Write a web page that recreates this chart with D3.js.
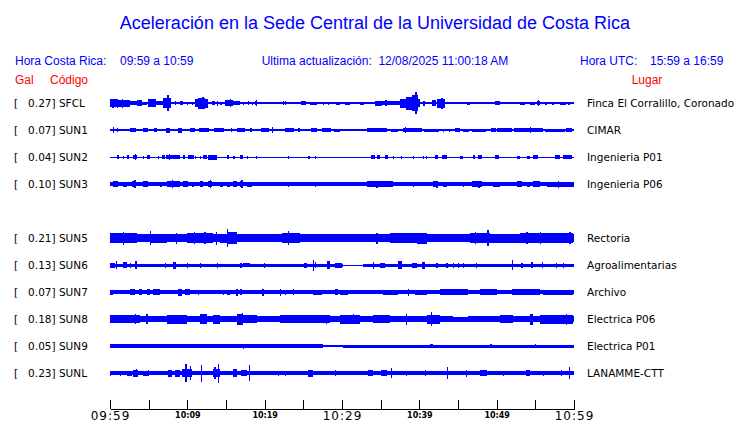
<!DOCTYPE html>
<html><head><meta charset="utf-8">
<script src="https://cdn.jsdelivr.net/npm/d3@7"></script>
<style>
html,body{margin:0;padding:0;background:#fff;}
svg{display:block;}
text{white-space:pre;}
</style></head>
<body>
<svg id="chart" width="740" height="423"></svg>
<script>
// ---------------- DATA ----------------
const titleText = "Aceleración en la Sede Central de la Universidad de Costa Rica";
const headerLeft = ["Hora Costa Rica:", "09:59 a 10:59"];
const headerMid = "Ultima actualización:  12/08/2025 11:00:18 AM";
const headerRight = ["Hora UTC:", "15:59 a 16:59"];
const colHeads = ["Gal", "Código", "Lugar"];

const slots = ["SFCL","SUN1","SUN2","SUN3","SUN4","SUN5","SUN6","SUN7","SUN8","SUN9","SUNL"];
const codes = ["SFCL","SUN1","SUN2","SUN3","SUN5","SUN6","SUN7","SUN8","SUN9","SUNL"];
const peakGal = [0.27,0.07,0.04,0.10,0.21,0.13,0.07,0.18,0.05,0.23];
const places = ["Finca El Corralillo, Coronado","CIMAR","Ingenieria P01","Ingenieria P06","Rectoria","Agroalimentarias","Archivo","Electrica P06","Electrica P01","LANAMME-CTT"];

// time window: minutes after 09:59
const windowStart = [9, 59];
const windowMinutes = 60;
const majorLabels = ["09:59","10:09","10:19","10:29","10:39","10:49","10:59"];
const bigLabels = ["09:59","10:29","10:59"];

// background noise level per station: [fromMin, toMin, halfAmplitudeGal]
const noiseSFCL = [[0,60,0.012]];
const noiseSUN1 = [[0,60,0.02],[0,13.3,0.027]];
const noiseSUN2 = [[0,60,0.01]];
const noiseSUN3 = [[0,60,0.032],[19.0,33.2,0.04]];
const noiseSUN5 = [[0,60,0.08]];
const noiseSUN6 = [[0,30.13,0.03],[32.72,60,0.03]];
const noiseSUN7 = [[0,60,0.033]];
const noiseSUN8 = [[0,44.35,0.065],[44.35,46.3,0.05],[46.3,60,0.065]];
const noiseSUN9 = [[0,27.5,0.038],[27.5,30.1,0.016],[30.1,60,0.03]];
const noiseSUNL = [[0,60,0.038]];

// bursts of shaking: [fromMin, toMin, halfAmplitudeGal]
const burstSFCL = [[0,1.0,0.08],[0.3,0.5,0.09],[0.85,1.0,0.09],[1.0,2.6,0.07],[1.5,1.7,0.09],[2.6,3.5,0.035],[3.5,4.1,0.06],[4.2,4.8,0.03],[4.9,5.9,0.08],[5.9,6.8,0.04],[6.85,7.9,0.1],[7.4,7.6,0.16],[8.35,8.5,0.04],[9.05,9.4,0.04],[10.0,10.1,0.03],[10.55,10.65,0.03],[11.0,11.4,0.08],[11.4,12.3,0.11],[11.9,12.1,0.12],[12.3,12.7,0.09],[13.2,13.6,0.04],[13.8,14.0,0.05],[14.2,14.5,0.03],[14.9,15.9,0.06],[15.5,15.7,0.085],[15.9,16.8,0.04],[17.2,17.3,0.03],[17.8,17.9,0.04],[18.3,18.4,0.03],[18.75,19.0,0.04],[18.85,18.95,0.06],[20.5,20.6,0.025],[21.2,21.3,0.025],[22.35,22.45,0.04],[22.6,22.7,0.04],[24.7,25.3,0.04],[25.9,26.8,0.03],[27.5,27.6,0.03],[28.2,28.3,0.03],[29.2,29.7,0.03],[30.4,31.0,0.03],[32.3,32.9,0.03],[34.3,35.2,0.05],[35.2,36.2,0.04],[35.6,35.8,0.06],[36.2,37.5,0.045],[37.5,38.3,0.09],[38.3,39.0,0.13],[39.0,39.8,0.16],[39.5,39.65,0.22],[39.8,40.1,0.08],[40.5,40.7,0.05],[41.6,42.1,0.06],[42.3,43.3,0.09],[42.85,43.0,0.11],[46.2,46.55,0.03],[47.8,47.9,0.02],[49.8,50.4,0.04],[53.0,53.7,0.03],[54.3,54.9,0.03],[55.2,55.6,0.04],[55.3,55.4,0.06],[56.3,56.5,0.03],[57.2,57.4,0.03],[58.2,59.0,0.03],[59.2,59.5,0.03]];
const burstSUN1 = [[0.35,0.5,0.06],[0.9,1.0,0.04],[2.6,3.3,0.04],[4.3,4.9,0.04],[5.7,6.1,0.04],[7.3,7.8,0.05],[8.8,9.3,0.05],[10.3,11.0,0.04],[11.5,12.8,0.04],[13.5,14.8,0.04],[15.6,15.8,0.04],[16.4,17.5,0.04],[18.1,18.3,0.04],[19.5,20.6,0.04],[20.9,21.1,0.06],[22.6,23.8,0.04],[24.3,24.6,0.04],[26.0,26.8,0.04],[27.4,28.6,0.04],[29.0,29.8,0.03],[33.2,35.8,0.04],[36.3,37.3,0.03],[37.9,40.4,0.045],[38.1,38.25,0.06],[40.6,42.5,0.03],[43.1,43.2,0.03],[43.9,44.0,0.03],[44.6,45.2,0.04],[45.6,46.4,0.03],[46.8,48.6,0.03],[49.3,49.9,0.04],[50.1,52.0,0.04],[52.3,56.0,0.04],[54.3,54.5,0.06],[56.2,58.8,0.03],[59.0,59.8,0.04]];
const burstSUN2 = [[0.85,1.1,0.04],[1.65,1.8,0.03],[2.15,2.4,0.04],[3.0,3.45,0.04],[3.2,3.3,0.06],[4.25,4.4,0.03],[4.75,5.15,0.035],[6.2,6.3,0.03],[6.7,7.1,0.04],[7.3,9.05,0.04],[7.6,7.75,0.06],[9.45,9.7,0.04],[10.1,10.8,0.035],[10.95,11.05,0.03],[11.6,11.7,0.03],[12.05,12.5,0.04],[12.7,13.8,0.05],[15.1,15.45,0.04],[15.95,16.2,0.03],[16.8,17.25,0.04],[17.7,17.9,0.03],[18.9,19.05,0.03],[23.0,23.1,0.03],[25.6,25.85,0.03],[26.5,26.7,0.03],[33.8,34.3,0.04],[34.5,34.9,0.035],[35.55,36.0,0.04],[36.55,36.7,0.03],[37.65,37.8,0.03],[39.15,39.3,0.03],[40.45,40.6,0.03],[40.9,41.05,0.03],[42.0,42.45,0.04],[42.9,43.55,0.04],[45.25,45.7,0.03],[46.95,47.2,0.04],[47.6,48.05,0.035],[49.8,50.25,0.04],[52.6,53.0,0.03],[53.9,54.3,0.03],[54.7,55.4,0.04],[57.5,58.2,0.035],[58.6,59.7,0.04]];
const burstSUN3 = [[0.4,1.07,0.06],[1.7,2.15,0.05],[2.8,3.36,0.06],[3.15,3.3,0.08],[4.3,4.95,0.06],[6.47,6.7,0.05],[7.33,9.05,0.06],[8.05,8.2,0.08],[9.48,10.1,0.06],[10.55,10.8,0.05],[11.64,12.06,0.06],[12.7,13.15,0.06],[12.9,13.05,0.08],[14.2,14.65,0.05],[15.1,15.5,0.05],[15.95,16.4,0.06],[16.8,17.25,0.06],[17.0,17.15,0.08],[17.7,18.3,0.05],[23.0,23.1,0.05],[26.45,26.6,0.05],[33.2,36.6,0.055],[34.45,34.6,0.07],[35.5,35.65,0.065],[39.15,39.3,0.05],[40.45,40.6,0.045],[41.8,42.45,0.06],[42.2,42.35,0.07],[43.1,43.55,0.05],[45.6,45.75,0.05],[46.8,48.05,0.06],[47.65,47.8,0.07],[49.55,50.43,0.05],[52.6,53.25,0.06],[53.9,54.3,0.05],[54.7,55.6,0.06],[56.5,59.05,0.05],[57.9,58.05,0.07],[59.05,60,0.05]];
const burstSUN5 = [[0,3.45,0.095],[1.7,1.85,0.13],[5.17,7.33,0.09],[5.2,5.35,0.14],[8.55,8.7,0.11],[9.9,13.36,0.1],[10.8,10.95,0.12],[12.2,12.35,0.12],[13.75,13.9,0.13],[14.2,15.1,0.09],[15.1,16.4,0.12],[15.1,15.25,0.18],[22.2,24.57,0.1],[23.0,23.15,0.14],[34.45,34.6,0.11],[36.2,40.5,0.1],[39.65,40.95,0.11],[46.55,49.14,0.1],[47.15,47.3,0.12],[48.8,48.95,0.16],[49.14,53.0,0.09],[53.0,59.9,0.1],[53.85,54.0,0.12],[55.55,55.7,0.12],[59.4,59.55,0.12]];
const burstSUN6 = [[0,0.65,0.05],[0.8,0.95,0.08],[1.7,2.15,0.06],[2.55,2.7,0.05],[3.2,3.45,0.08],[7.05,7.2,0.05],[8.2,8.55,0.07],[9.95,10.1,0.05],[11.6,11.75,0.05],[13.8,14.0,0.05],[16.8,17.05,0.05],[17.25,18.1,0.045],[19.9,20.05,0.05],[25.1,25.45,0.05],[26.25,26.4,0.11],[26.5,26.7,0.06],[28.0,28.45,0.08],[29.1,29.95,0.05],[33.95,34.1,0.07],[34.9,35.55,0.05],[37.25,37.7,0.08],[39.0,39.65,0.05],[40.3,40.75,0.07],[42.2,42.35,0.05],[43.5,43.65,0.05],[44.3,44.45,0.05],[45.0,45.15,0.05],[45.6,45.75,0.05],[47.35,47.5,0.05],[52.0,52.15,0.1],[53.2,53.35,0.05],[54.5,54.65,0.06],[55.8,55.95,0.06],[57.7,57.85,0.05],[58.55,58.7,0.05]];
const burstSUN7 = [[0,0.45,0.05],[2.59,3.23,0.06],[3.8,4.1,0.06],[4.75,5.17,0.06],[5.6,6.47,0.06],[8.85,9.27,0.07],[9.7,10.35,0.06],[11.4,11.55,0.05],[14.6,14.75,0.05],[15.1,15.5,0.05],[16.3,16.5,0.07],[16.8,17.05,0.06],[19.7,19.85,0.07],[21.95,22.1,0.07],[22.6,22.75,0.05],[23.65,23.8,0.06],[26.3,27.35,0.05],[29.1,29.5,0.06],[29.74,30.8,0.05],[35.35,37.3,0.05],[38.55,38.7,0.07],[39.45,40.95,0.05],[42.67,46.35,0.055],[45.85,46.0,0.065],[47.85,50.0,0.06],[51.95,55.6,0.06],[56.0,59.9,0.05]];
const burstSUN8 = [[0,3.88,0.08],[3.25,3.4,0.1],[4.7,4.85,0.1],[7.33,9.9,0.09],[11.64,12.5,0.1],[13.36,14.22,0.09],[16.4,17.25,0.11],[17.1,17.25,0.12],[17.25,18.97,0.08],[22.0,25.45,0.08],[25.45,28.45,0.08],[27.9,28.05,0.09],[29.74,31.04,0.09],[29.74,32.33,0.09],[31.4,31.55,0.1],[34.0,36.2,0.08],[38.3,38.45,0.11],[40.95,42.67,0.09],[41.55,41.7,0.14],[50.43,52.15,0.08],[54.3,54.75,0.11],[55.6,57.75,0.09],[57.75,59.9,0.09],[59.0,59.15,0.11]];
const burstSUN9 = [[17.15,17.3,0.05],[24.8,25.0,0.04],[41.4,41.8,0.045],[49.2,49.35,0.04],[55.0,55.15,0.04]];
const burstSUNL = [[0,0.15,0.05],[1.25,1.4,0.05],[2.15,2.8,0.05],[3.0,3.65,0.07],[3.4,3.55,0.08],[4.3,4.95,0.05],[4.9,5.05,0.06],[7.55,8.0,0.07],[8.4,9.05,0.07],[9.27,10.55,0.08],[9.75,9.9,0.18],[10.3,10.45,0.14],[11.8,11.95,0.17],[13.36,14.22,0.08],[13.5,13.65,0.12],[13.95,14.1,0.19],[15.95,16.4,0.08],[17.0,17.7,0.06],[17.95,18.1,0.16],[21.75,21.9,0.05],[22.6,22.75,0.05],[25.65,26.3,0.07],[29.05,29.2,0.06],[33.4,34.05,0.06],[35.1,35.8,0.06],[36.3,36.45,0.1],[38.3,38.45,0.05],[40.7,40.85,0.06],[43.55,43.7,0.12],[46.05,46.2,0.07],[47.85,48.7,0.06],[50.8,50.95,0.05],[53.85,54.3,0.06],[55.95,56.1,0.05],[58.35,58.5,0.06],[59.35,59.5,0.12]];

const noise = {SFCL:noiseSFCL,SUN1:noiseSUN1,SUN2:noiseSUN2,SUN3:noiseSUN3,SUN5:noiseSUN5,SUN6:noiseSUN6,SUN7:noiseSUN7,SUN8:noiseSUN8,SUN9:noiseSUN9,SUNL:noiseSUNL};
const bursts = {SFCL:burstSFCL,SUN1:burstSUN1,SUN2:burstSUN2,SUN3:burstSUN3,SUN5:burstSUN5,SUN6:burstSUN6,SUN7:burstSUN7,SUN8:burstSUN8,SUN9:burstSUN9,SUNL:burstSUNL};

// ---------------- DRAW ----------------
const BLUE = "#0000ff", RED = "#ff0000";
const svg = d3.select("#chart");
const t0 = new Date(2025, 7, 12, windowStart[0], windowStart[1]);
const toDate = m => new Date(t0.getTime() + m * 60000);

const x = d3.scaleTime().domain([t0, toDate(windowMinutes)]).range([110, 574]);
const y = d3.scalePoint().domain(slots).range([103, 373]);
const amp = d3.scaleLinear().domain([0, 0.2]).range([0, 10]);

// title
svg.append("text").attr("x", 375).attr("y", 29).attr("text-anchor", "middle")
  .attr("font-family", "Liberation Sans, Arial, sans-serif").attr("font-size", 18)
  .attr("fill", BLUE).text(titleText);

const hdr = (tx, px, py, col, anchor) => svg.append("text").attr("x", px).attr("y", py)
  .attr("text-anchor", anchor || "start")
  .attr("font-family", "Liberation Sans, Arial, sans-serif").attr("font-size", 12)
  .attr("fill", col).attr("xml:space", "preserve").text(tx);

hdr(headerLeft[0], 15, 65, BLUE);
hdr(headerLeft[1], 120, 65, BLUE);
hdr(headerMid, 385, 65, BLUE, "middle");
hdr(headerRight[0], 580, 65, BLUE);
hdr(headerRight[1], 650, 65, BLUE);
hdr(colHeads[0], 15, 84, RED);
hdr(colHeads[1], 50, 84, RED);
hdr(colHeads[2], 647, 84, RED, "middle");

const fmt = d3.format("7.2f");
const rows = svg.append("g").selectAll("g").data(codes).join("g")
  .attr("transform", d => `translate(0,${y(d)})`);

rows.append("text").attr("x", 14).attr("y", 0).attr("dy", "0.36em")
  .attr("font-family", "DejaVu Sans, sans-serif").attr("font-size", 10.5)
  .attr("xml:space", "preserve").attr("fill", "#000")
  .text((d, i) => `[${fmt(peakGal[i])}] ${d}`);

rows.append("text").attr("x", 587).attr("y", 0).attr("dy", "0.36em")
  .attr("font-family", "DejaVu Sans, sans-serif").attr("font-size", 10.5)
  .attr("fill", "#000").text((d, i) => places[i]);

rows.append("line").attr("x1", x.range()[0]).attr("x2", x.range()[1])
  .attr("y1", 0).attr("y2", 0).attr("stroke", BLUE).attr("stroke-width", 1)
  .attr("shape-rendering", "crispEdges");

const band = (sel, key) => sel.selectAll("rect." + key)
  .data(d => (key === "n" ? noise[d] : bursts[d]))
  .join("rect").attr("class", key)
  .attr("x", b => x(toDate(b[0])))
  .attr("width", b => Math.max(1, x(toDate(b[1])) - x(toDate(b[0]))))
  .attr("y", b => -amp(b[2]))
  .attr("height", b => 2 * amp(b[2]))
  .attr("fill", BLUE).attr("shape-rendering", "crispEdges");
rows.call(band, "n");
rows.call(band, "b");

// time axis
const tickTimes = d3.range(0, windowMinutes + 1, 5).map(toDate);
const tf = d3.timeFormat("%H:%M");
const axis = d3.axisBottom(x).tickValues(tickTimes).tickSizeInner(-9).tickSizeOuter(0)
  .tickFormat(d => majorLabels.includes(tf(d)) ? tf(d) : "");
const ax = svg.append("g").attr("transform", "translate(0,409)").call(axis);
ax.select(".domain").attr("stroke", "#000").attr("shape-rendering", "crispEdges");
ax.selectAll(".tick line").attr("stroke", "#000").attr("shape-rendering", "crispEdges");
ax.selectAll(".tick text").attr("fill", "#000").attr("font-family", "DejaVu Sans, sans-serif")
  .attr("dy", null)
  .each(function () {
    const s = d3.select(this), big = bigLabels.includes(s.text());
    s.attr("font-size", big ? 12 : 8)
     .attr("font-weight", big ? "normal" : "bold")
     .attr("letter-spacing", big ? 1 : 0)
     .attr("y", big ? 11 : 9);
  });
</script>
</body></html>
